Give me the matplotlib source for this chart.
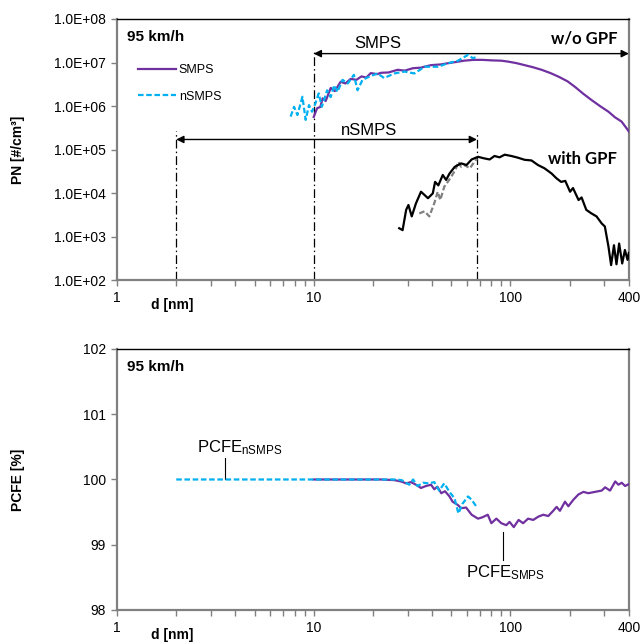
import matplotlib
matplotlib.use("Agg")
import matplotlib.pyplot as plt
from matplotlib.lines import Line2D
import numpy as np

plt.rcParams['font.family'] = ['Liberation Sans', 'DejaVu Sans']
plt.rcParams['mathtext.fontset'] = 'custom'
plt.rcParams['mathtext.rm'] = 'Liberation Sans'
plt.rcParams['mathtext.it'] = 'Liberation Sans:italic'
plt.rcParams['mathtext.bf'] = 'Liberation Sans:bold'

# ---------------- data: top panel (PN size distributions) ----------------
smps_d = [10.0, 10.4, 10.8, 11.1, 11.5, 12.2, 12.8, 13.7, 14.5, 15.4, 16.5, 17.5, 18.5,
          19.5, 21, 22, 24, 26.7, 29, 32, 35, 39.5, 44, 48, 53, 58, 65, 72, 80, 90,
          97, 107, 118, 130, 144, 160, 176, 195, 213, 235, 258, 285, 315, 340, 367, 385, 400]
smps_pn = [5.6e5, 8.9e5, 9.5e5, 1.5e6, 1.3e6, 2.6e6, 2.2e6, 3.6e6, 3.3e6, 4.2e6, 4.0e6, 4.8e6, 4.5e6,
           5.7e6, 5.4e6, 5.8e6, 5.9e6, 6.8e6, 6.5e6, 7.4e6, 7.6e6, 8.7e6, 9.0e6, 9.6e6, 1.03e7, 1.1e7,
           1.15e7, 1.15e7, 1.12e7, 1.1e7, 1.05e7, 9.7e6, 8.7e6, 7.8e6, 6.8e6, 5.7e6, 4.7e6, 3.7e6,
           2.75e6, 1.9e6, 1.38e6, 1.0e6, 7.4e5, 5.5e5, 4.4e5, 3.3e5, 2.6e5]

nsmps_d = [7.63, 7.94, 8.26, 8.76, 9.1, 9.46, 9.8, 10.2, 10.6, 11.0, 11.7, 12.2, 12.7, 13.2,
           14.0, 14.9, 16.0, 16.7, 17.7, 19.1, 21.1, 22.8, 25.7, 28.9, 32.5, 36.6, 42.9, 48.0,
           54.1, 60.9, 64.5, 68.4]
nsmps_pn = [5.7e5, 9.6e5, 6.2e5, 1.63e6, 4.8e5, 1.05e6, 7.4e5, 1.15e6, 1.95e6, 9.6e5, 2.3e6, 1.6e6,
            3.0e6, 2.1e6, 4.0e6, 3.3e6, 5.2e6, 2.3e6, 4.0e6, 4.7e6, 5.6e6, 4.4e6, 5.6e6, 6.2e6,
            5.6e6, 8.0e6, 8.0e6, 9.6e6, 1.1e7, 1.5e7, 1.25e7, 1.4e7]

gpf_d = [27.2, 28.3, 29.5, 30.3, 31.5, 33.1, 35.1, 38.1, 40.3, 41.4, 43.0, 45.3, 47.1, 49.0,
         52.1, 56.2, 59.8, 63.5, 68.4, 73, 78.4, 83, 88, 93.5, 101, 109, 118, 128, 138, 149,
         162, 171, 181, 190, 201, 208, 222, 230, 243, 258, 274, 291, 302, 315, 325, 336, 346,
         357, 370, 382, 394, 400]
gpf_pn = [1.55e3, 1.4e3, 4.1e3, 5.3e3, 2.9e3, 5.8e3, 1.07e4, 7.6e3, 9.8e3, 1.8e4, 1.5e4, 2.6e4,
          2.0e4, 2.8e4, 4.0e4, 4.8e4, 4.4e4, 5.9e4, 6.8e4, 6.3e4, 5.9e4, 7.1e4, 6.6e4, 7.6e4,
          7.1e4, 6.5e4, 5.8e4, 5.6e4, 4.4e4, 3.7e4, 2.8e4, 2.2e4, 1.8e4, 1.9e4, 1.07e4, 1.3e4,
          6.9e3, 7.9e3, 4.1e3, 3.4e3, 2.9e3, 2.0e3, 1.7e3, 5.9e2, 2.2e2, 6.3e2, 2.3e2, 6.9e2,
          2.4e2, 4.9e2, 2.9e2, 4.2e2]

gpf_n_d = [34.4, 36.6, 38.7, 41.0, 42.7, 44.0, 46.1, 48.0, 49.5, 52.5, 54.4, 56.2, 58.4, 62.2,
           65.4, 67.6]
gpf_n_pn = [3.4e3, 3.8e3, 2.9e3, 5.8e3, 1.07e4, 6.9e3, 1.4e4, 1.8e4, 2.2e4, 3.4e4, 5.2e4, 4.0e4,
            4.4e4, 3.7e4, 5.1e4, 6.2e4]

# ---------------- data: bottom panel (PCFE) ----------------
pcfe_smps_d = [10, 15, 22, 25.7, 27.8, 29.5, 31.2, 33.1, 35.1, 37.2, 39.5, 41, 42.5, 44.5, 46.5,
               49, 50.8, 54, 56.2, 59.5, 63.5, 68.4, 72, 76.7, 80, 84.8, 89.9, 95.2, 99, 104, 110,
               116, 123, 130.6, 138.5, 146.9, 155.7, 165, 171.7, 178.5, 189.4, 197, 209, 221.5,
               235, 249, 269, 291, 303, 321, 341, 354, 368, 383, 400]
pcfe_smps = [100.0, 100.0, 100.0, 99.99, 99.97, 99.94, 99.96, 99.92, 99.87, 99.90, 99.92, 99.85,
             99.89, 99.79, 99.82, 99.74, 99.66, 99.61, 99.56, 99.57, 99.46, 99.40, 99.42, 99.46,
             99.33, 99.40, 99.33, 99.30, 99.35, 99.27, 99.38, 99.33, 99.40, 99.38, 99.43, 99.46,
             99.44, 99.52, 99.58, 99.52, 99.66, 99.59, 99.69, 99.77, 99.81, 99.79, 99.81, 99.83,
             99.88, 99.83, 99.97, 99.92, 99.95, 99.90, 99.93]

pcfe_nsmps_d = [2.0, 10, 22, 26, 28, 30.6, 32, 33.7, 36, 38.5, 41, 43.4, 46.1, 49, 52, 54.4,
                57.1, 60.9, 63.5, 67.3]
pcfe_nsmps = [100.0, 100.0, 100.0, 100.0, 99.99, 99.92, 100.0, 99.90, 99.95, 99.94, 99.96,
              99.83, 99.94, 99.81, 99.71, 99.48, 99.63, 99.74, 99.69, 99.58]

x_ticks = [1, 10, 100, 400]
x_ticklabels = ['1', '10', '100', '400']
x_minor = [2, 3, 4, 5, 6, 7, 8, 9, 20, 30, 40, 50, 60, 70, 80, 90, 200, 300]
pn_ticks = [1e2, 1e3, 1e4, 1e5, 1e6, 1e7, 1e8]
pn_ticklabels = ['1.0E+02', '1.0E+03', '1.0E+04', '1.0E+05', '1.0E+06', '1.0E+07', '1.0E+08']
pcfe_ticks = [98, 99, 100, 101, 102]
pcfe_ticklabels = ['98', '99', '100', '101', '102']

# range markers
smps_range = [10, 400]
nsmps_range = [2, 67.6]

PURPLE = '#7030A0'
CYAN = '#00B0F0'
GREY = '#808080'

fig = plt.figure(figsize=(6.43, 6.44), dpi=100)
ax1 = fig.add_axes([0.182, 0.5652, 0.796, 0.4053])
ax2 = fig.add_axes([0.182, 0.0528, 0.796, 0.4053])


def style_axes(ax):
    ax.set_xscale('log')
    ax.set_xlim(1, 400)
    ax.set_xticks(x_ticks)
    ax.set_xticklabels(x_ticklabels)
    ax.set_xticks(x_minor, minor=True)
    ax.xaxis.set_minor_formatter(matplotlib.ticker.NullFormatter())
    ax.tick_params(axis='both', which='both', direction='out', length=4, width=1,
                   color=GREY, labelsize=10, pad=4)
    for s in ['left', 'bottom']:
        ax.spines[s].set_color(GREY)
        ax.spines[s].set_linewidth(1.6)
    ax.spines['top'].set_color('black')
    ax.spines['top'].set_linewidth(1.0)
    ax.spines['right'].set_color(GREY)
    ax.spines['right'].set_linewidth(1.6)
    ax.text(0.107, -0.096, 'd [nm]', transform=ax.transAxes, ha='center', va='center',
            fontsize=10, fontweight='bold')
    ax.text(0.0195, 0.931, '95 km/h', transform=ax.transAxes, ha='left', va='center',
            fontsize=11, fontweight='bold')


# ---------------- top panel ----------------
style_axes(ax1)
ax1.set_yscale('log')
ax1.set_ylim(1e2, 1e8)
ax1.set_yticks(pn_ticks)
ax1.set_yticklabels(pn_ticklabels)
ax1.yaxis.set_minor_locator(matplotlib.ticker.NullLocator())
ax1.set_ylabel('PN [#/cm³]', fontsize=10, fontweight='bold')
ax1.yaxis.set_label_coords(-0.18, 0.5)

dashdot = (0, (7, 2.5, 1.2, 2.5))
ax1.plot([smps_range[0]] * 2, [1e2, 1.95e7], color='black', lw=0.9, ls=dashdot, zorder=1)
ax1.plot([nsmps_range[0]] * 2, [1e2, 2.7e5], color='black', lw=0.9, ls=dashdot, zorder=1)
ax1.plot([nsmps_range[1]] * 2, [1e2, 2.45e5], color='black', lw=0.9, ls=dashdot, zorder=1)

ax1.plot(smps_d, smps_pn, color=PURPLE, lw=1.6, zorder=3, label='SMPS')
ax1.plot(nsmps_d, nsmps_pn, color=CYAN, lw=1.6, ls=(0, (2.5, 1.2)), zorder=4, label='nSMPS')
ax1.plot(gpf_n_d, gpf_n_pn, color=GREY, lw=1.6, ls=(0, (2.5, 1.2)), zorder=3)
ax1.plot(gpf_d, gpf_pn, color='black', lw=1.6, zorder=4)

arrow_kw = dict(arrowstyle='<|-|>', color='black', lw=1.0, mutation_scale=11,
                shrinkA=0, shrinkB=0)
ax1.annotate('', xy=(smps_range[1], 1.6e7), xytext=(smps_range[0], 1.6e7), arrowprops=arrow_kw,
             annotation_clip=False)
ax1.annotate('', xy=(nsmps_range[1], 1.7e5), xytext=(nsmps_range[0], 1.7e5), arrowprops=arrow_kw)
ax1.text(21.2, 2.8e7, 'SMPS', fontsize=12, ha='center', va='center')
ax1.text(19.0, 2.7e5, 'nSMPS', fontsize=12, ha='center', va='center')
ax1.text(0.977, 0.927, 'w/o GPF', transform=ax1.transAxes, ha='right', va='center',
         fontsize=12, fontweight='bold', family=['Lato', 'DejaVu Sans'])
ax1.text(0.977, 0.462, 'with GPF', transform=ax1.transAxes, ha='right', va='center',
         fontsize=12, fontweight='bold', family=['Lato', 'DejaVu Sans'])

handles = [Line2D([], [], color=PURPLE, lw=1.6),
           Line2D([], [], color=CYAN, lw=1.6, ls=(0, (2.5, 1.2)))]
ax1.legend(handles, ['SMPS', 'nSMPS'], loc='upper left', bbox_to_anchor=(0.024, 0.86),
           frameon=False, fontsize=9, handlelength=3.05, handletextpad=0.2,
           labelspacing=1.15, borderpad=0.2)

# ---------------- bottom panel ----------------
style_axes(ax2)
ax2.set_ylim(98, 102)
ax2.set_yticks(pcfe_ticks)
ax2.set_yticklabels(pcfe_ticklabels)
ax2.set_ylabel('PCFE [%]', fontsize=10, fontweight='bold')
ax2.yaxis.set_label_coords(-0.18, 0.5)

ax2.plot(pcfe_smps_d, pcfe_smps, color=PURPLE, lw=1.6, zorder=3)
ax2.plot(pcfe_nsmps_d, pcfe_nsmps, color=CYAN, lw=1.6, ls=(0, (2.5, 1.2)), zorder=4)

ax2.plot([3.56, 3.56], [100.0, 100.33], color='black', lw=0.8)
ax2.text(2.56, 100.49, r'PCFE$_{\mathrm{nSMPS}}$', fontsize=12, ha='left', va='center')
ax2.plot([91.8, 91.8], [98.77, 99.2], color='black', lw=0.8)
ax2.text(59.7, 98.57, r'PCFE$_{\mathrm{SMPS}}$', fontsize=12, ha='left', va='center')

fig.savefig('out.png', dpi=100)
